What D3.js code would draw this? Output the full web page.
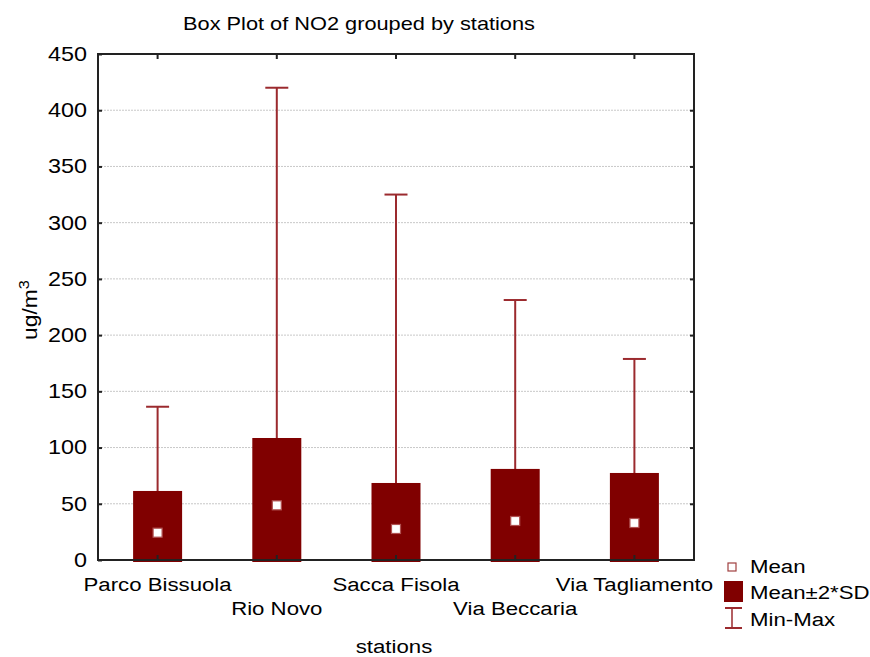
<!DOCTYPE html>
<html><head><meta charset="utf-8">
<script src="https://cdn.jsdelivr.net/npm/d3@7"></script>
<style>body{margin:0;background:#fff}text{font-family:"Liberation Sans",Arial,sans-serif}</style>
</head><body>
<svg id="c" width="870" height="657"></svg>
<script>
const stations = ["Parco Bissuola","Rio Novo","Sacca Fisola","Via Beccaria","Via Tagliamento"];
const means = [24.3, 48.6, 27.6, 34.7, 32.9];
const upper2sd = [61.4, 108.5, 68.5, 81, 77.4];
const lower2sd = [-12.8, -11.3, -13.3, -11.6, -11.6];
const mins = [2, 2, 1, 2, 2];
const maxs = [136.3, 420, 325, 231.2, 178.8];
const yTicks = [0,50,100,150,200,250,300,350,400,450];

const svg = d3.select("#c");
const L=98, R=694, T=54, B=560;
const SX = 1.17;
const x = d3.scaleBand().domain(stations).range([L,R]);
const y = d3.scaleLinear().domain([0,450]).range([B,T]);
const dark="#800000", wc="#9b2a2e";

function stext(parent, tx, ty, str, size, anchor){
  return parent.append("text")
    .attr("transform",`translate(${tx},${ty}) scale(${SX},1)`)
    .attr("text-anchor",anchor||"middle").attr("font-size",size).attr("fill","#000").text(str);
}

// grid
svg.append("g").selectAll("line").data(yTicks.slice(1,-1)).join("line")
  .attr("x1",L).attr("x2",R).attr("y1",d=>y(d)).attr("y2",d=>y(d))
  .attr("stroke","#c8c8c8").attr("stroke-dasharray","2,1").attr("stroke-width",1);

svg.append("clipPath").attr("id","pc").append("rect").attr("x",L).attr("y",T).attr("width",R-L).attr("height",B-T+2);
const g = svg.append("g").attr("clip-path","url(#pc)");
const bw=49, cw=23;
const cx = d=>x(d)+x.bandwidth()/2;
// whiskers
g.selectAll(".w").data(stations).join("line")
  .attr("x1",cx).attr("x2",cx).attr("y1",(d,i)=>y(mins[i])).attr("y2",(d,i)=>y(maxs[i]))
  .attr("stroke",wc).attr("stroke-width",2);
g.selectAll(".cap").data(stations).join("line")
  .attr("x1",d=>cx(d)-cw/2).attr("x2",d=>cx(d)+cw/2).attr("y1",(d,i)=>y(maxs[i])).attr("y2",(d,i)=>y(maxs[i]))
  .attr("stroke",wc).attr("stroke-width",2);
// boxes
g.selectAll(".b").data(stations).join("rect")
  .attr("x",d=>cx(d)-bw/2).attr("width",bw)
  .attr("y",(d,i)=>y(upper2sd[i])).attr("height",(d,i)=>y(lower2sd[i])-y(upper2sd[i]))
  .attr("fill",dark);
// means
g.selectAll(".m").data(stations).join("rect")
  .attr("x",d=>cx(d)-4.5).attr("width",9)
  .attr("y",(d,i)=>y(means[i])-4.5).attr("height",9)
  .attr("fill","#fff").attr("stroke","#b05050").attr("stroke-width",1.2);

// frame
svg.append("rect").attr("x",L).attr("y",T).attr("width",R-L).attr("height",B-T)
  .attr("fill","none").attr("stroke","#222").attr("stroke-width",2);

// axes
const yAx = svg.append("g").attr("transform",`translate(${L},0)`)
  .call(d3.axisLeft(y).tickValues(yTicks).tickSize(-4).tickFormat(d3.format("d")));
yAx.select(".domain").remove();
yAx.selectAll("line").attr("stroke","#222").attr("stroke-width",2);
yAx.selectAll("text").attr("font-size",20).attr("fill","#000")
  .style("font-family","Liberation Sans, Arial, sans-serif")
  .attr("x",-11/SX).attr("transform",`scale(${SX},1)`);

const yAxR = svg.append("g").attr("transform",`translate(${R},0)`)
  .call(d3.axisRight(y).tickValues(yTicks.slice(1,-1)).tickSize(-4).tickFormat(""));
yAxR.select(".domain").remove();
yAxR.selectAll("line").attr("stroke","#222").attr("stroke-width",2);

const xAx = svg.append("g").attr("transform",`translate(0,${B})`)
  .call(d3.axisBottom(x).tickSize(-5).tickFormat(""));
xAx.select(".domain").remove();
xAx.selectAll("line").attr("stroke","#222").attr("stroke-width",2);
const xAxT = svg.append("g").attr("transform",`translate(0,${T})`)
  .call(d3.axisTop(x).tickSize(-5).tickFormat(""));
xAxT.select(".domain").remove();
xAxT.selectAll("line").attr("stroke","#222").attr("stroke-width",2);

const xl = svg.append("g");
stations.forEach((d,i)=> stext(xl, cx(d), i%2===0 ? 591 : 615, d, 19));

stext(svg, 359, 30, "Box Plot of NO2 grouped by stations", 18.6);
stext(svg, 394, 653, "stations", 19);
const yl = svg.append("text").attr("transform",`translate(37,310) rotate(-90) scale(${SX},1)`).attr("text-anchor","middle").attr("font-size",19.5);
yl.append("tspan").text("ug/m");
yl.append("tspan").attr("font-size",14).attr("dy",-8).text("3");

// legend
const lg = svg.append("g");
lg.append("rect").attr("x",728).attr("y",563).attr("width",8).attr("height",8).attr("fill","#fff").attr("stroke","#a04040").attr("stroke-width",1.2);
lg.append("rect").attr("x",724).attr("y",581).attr("width",19).attr("height",21).attr("fill",dark);
lg.append("line").attr("x1",732).attr("x2",732).attr("y1",608).attr("y2",628).attr("stroke",wc).attr("stroke-width",1.5);
lg.append("line").attr("x1",725).attr("x2",742).attr("y1",608).attr("y2",608).attr("stroke",wc).attr("stroke-width",2);
lg.append("line").attr("x1",725).attr("x2",742).attr("y1",628).attr("y2",628).attr("stroke",wc).attr("stroke-width",2);
[["Mean",573],["Mean±2*SD",599],["Min-Max",626]].forEach(d=> stext(lg, 750, d[1], d[0], 19, "start"));
</script>
</body></html>
